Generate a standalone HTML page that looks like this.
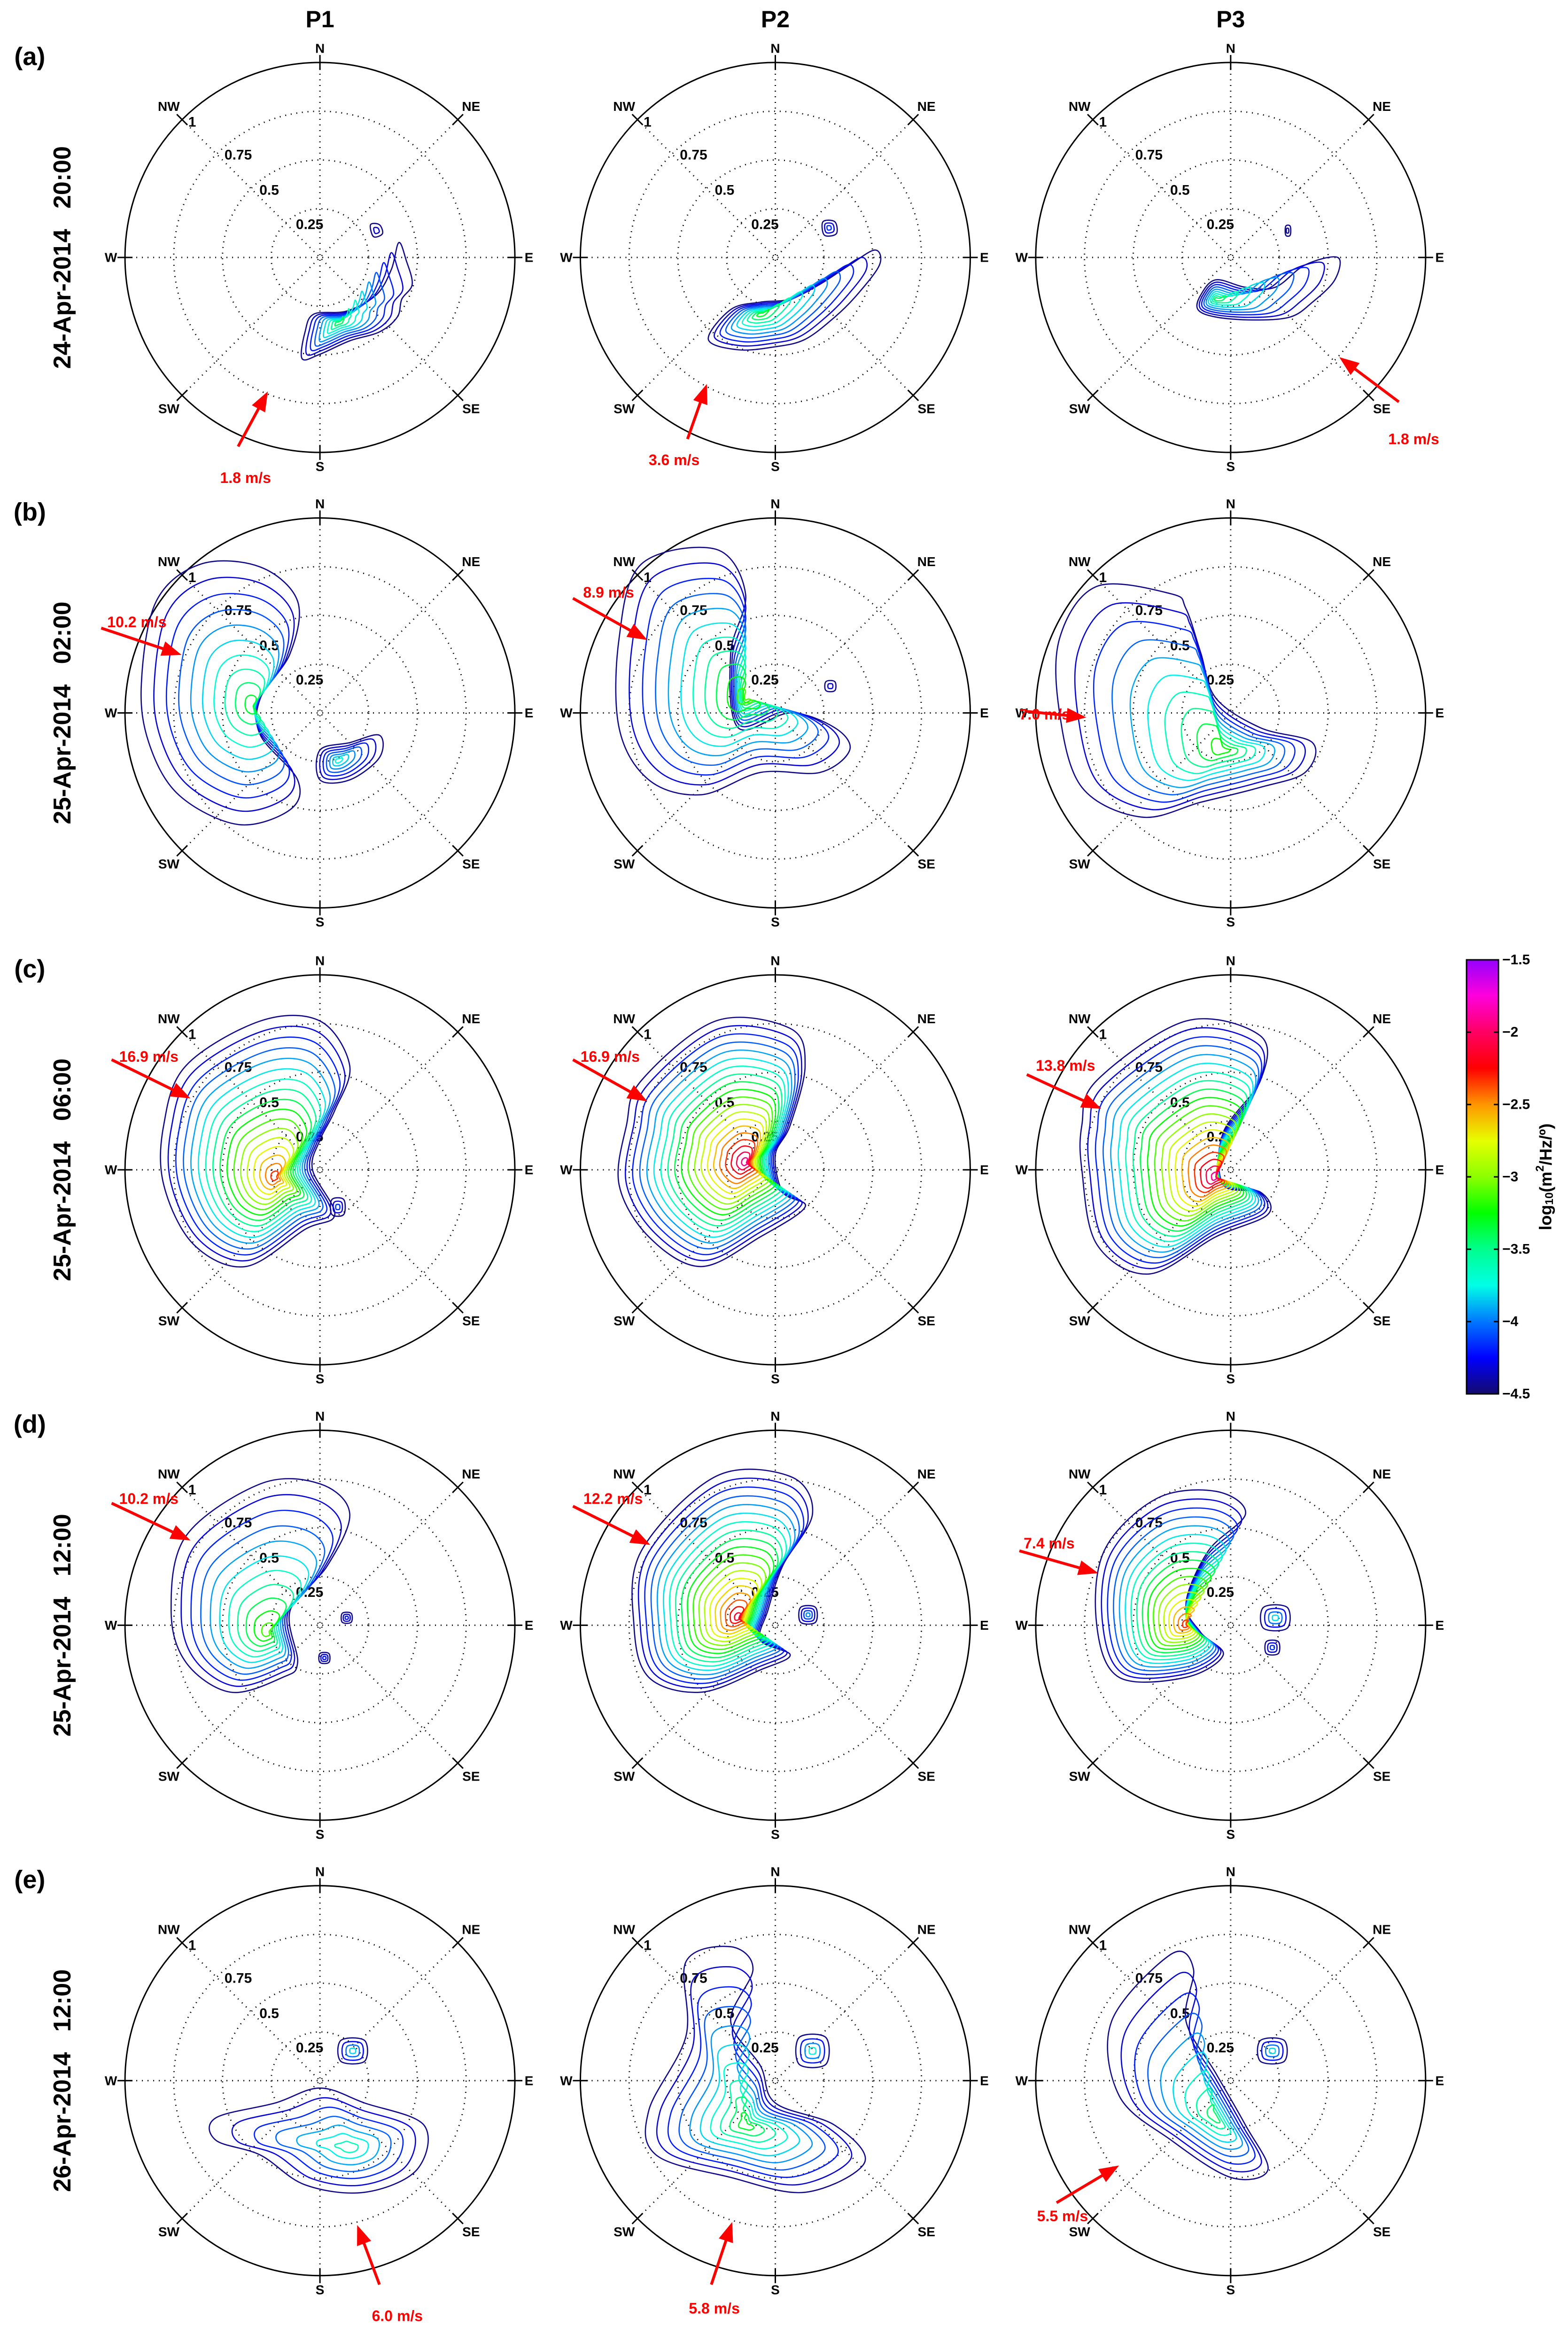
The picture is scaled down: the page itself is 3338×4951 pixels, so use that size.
<!DOCTYPE html>
<html><head><meta charset="utf-8"><style>
html,body{margin:0;padding:0;background:#fff}
svg{display:block}
text{font-family:"Liberation Sans","DejaVu Sans",sans-serif;font-weight:bold}
</style></head><body>
<svg id="fig" xmlns="http://www.w3.org/2000/svg" width="3338" height="4951" viewBox="0 0 3338 4951">
<rect width="3338" height="4951" fill="#fff"/>
</svg>
<script>
const NS="http://www.w3.org/2000/svg";
const svg=document.getElementById('fig');
const S=415/131;                       // display px -> full px
const colX=[215,521,827];
const rowY=[173,479,786,1092,1398];
const colNames=['P1','P2','P3'];
const rowLetters=['(a)','(b)','(c)','(d)','(e)'];
const rowDates=['24-Apr-2014','25-Apr-2014','25-Apr-2014','25-Apr-2014','26-Apr-2014'];
const rowTimes=['20:00','02:00','06:00','12:00','12:00'];
const ringValues=[0.25,0.5,0.75,1];
const cbTicks=[-1.5,-2,-2.5,-3,-3.5,-4,-4.5];
const cbMin=-4.5, cbMax=-1.5;
// panel blobs: outer contour [dx,dy] (display px), peak, peak level
const blobs=[
 [{o:[[-12,68],[-10,50],[-4,38],[18,36],[38,25],[48,8],[53,-10],[58,2],[62,18],[55,28],[52,40],[40,50],[20,56],[0,65]],p:[12,44],top:-3.3},
  {o:[[34,-22],[40,-22],[42,-16],[36,-14]],p:[38,-18],top:-4.2}],
 [{o:[[-45,55],[-30,35],[-10,30],[10,28],[30,18],[50,5],[67,-5],[70,5],[55,25],[40,40],[20,55],[0,60],[-25,62]],p:[-10,38],top:-3.2},
  {o:[[32,-24],[40,-24],[41,-16],[33,-15]],p:[36,-20],top:-4.0}],
 [{o:[[-20,25],[-10,15],[10,20],[30,20],[50,5],[72,0],[70,15],[55,30],[40,40],[15,42],[-10,40],[-22,35]],p:[-10,28],top:-3.3},
  {o:[[37,-21],[40,-21],[40,-15],[37,-15]],p:[38,-18],top:-4.4}],
 [{o:[[-110,-75],[-80,-100],[-40,-98],[-15,-75],[-20,-40],[-40,-10],[-40,15],[-15,45],[-20,65],[-55,75],[-95,55],[-115,20],[-120,-20]],p:[-45,-5],top:-3.2},
  {o:[[0,25],[20,20],[40,15],[40,30],[20,45],[0,45]],p:[12,32],top:-3.6}],
 [{o:[[-90,-100],[-40,-110],[-20,-80],[-30,-40],[-25,10],[10,0],[40,10],[50,25],[30,40],[-10,40],[-50,55],[-85,45],[-105,10],[-105,-50]],p:[-20,-10],top:-3.0},
  {o:[[34,-21],[40,-21],[40,-15],[34,-15]],p:[37,-18],top:-4.2}],
 [{o:[[-90,-85],[-40,-80],[-30,-70],[-20,-40],[-10,-10],[20,10],[55,20],[50,40],[20,50],[-20,60],[-60,70],[-100,50],[-115,0],[-115,-50]],p:[-5,25],top:-3.1}],
 [{o:[[-90,-70],[-40,-100],[0,-100],[20,-70],[10,-40],[0,-20],[-5,0],[10,30],[-10,40],[-50,65],[-85,50],[-105,10],[-105,-30]],p:[-30,5],top:-2.2},
  {o:[[8,20],[16,20],[16,30],[8,30]],p:[12,25],top:-4.0}],
 [{o:[[-90,-60],[-40,-100],[10,-95],[20,-70],[10,-30],[0,-10],[5,15],[20,25],[-10,45],[-50,65],[-85,45],[-105,10],[-100,-30]],p:[-20,-5],top:-1.8}],
 [{o:[[-90,-60],[-30,-100],[20,-90],[20,-60],[-5,-25],[-5,10],[20,15],[25,30],[-10,45],[-55,70],[-90,50],[-100,0],[-100,-30]],p:[-10,5],top:-1.8}],
 [{o:[[-90,-60],[-40,-95],[0,-95],[20,-75],[5,-40],[-20,-10],[-15,25],[-25,35],[-60,45],[-90,25],[-100,-10]],p:[-35,5],top:-3.0},
  {o:[[15,-8],[21,-8],[21,-2],[15,-2]],p:[18,-5],top:-4.1},{o:[[0,19],[6,19],[6,25],[0,25]],p:[3,22],top:-4.1}],
 [{o:[[-90,-50],[-40,-100],[10,-100],[25,-75],[5,-40],[-5,-10],[-10,10],[10,20],[-10,30],[-50,45],[-85,35],[-95,0]],p:[-25,-5],top:-2.0},
  {o:[[17,-12],[27,-12],[27,-2],[17,-2]],p:[22,-7],top:-3.8}],
 [{o:[[-85,-50],[-50,-85],[-10,-90],[10,-75],[-15,-50],[-30,-15],[-20,5],[-5,20],[-30,35],[-75,35],[-90,0]],p:[-30,0],top:-2.2},
  {o:[[22,-12],[38,-12],[38,2],[22,2]],p:[30,-5],top:-3.6},{o:[[24,11],[32,11],[32,19],[24,19]],p:[28,15],top:-4.0}],
 [{o:[[-70,25],[-30,15],[0,5],[30,15],[70,30],[65,60],[30,75],[-10,70],[-40,50],[-70,40]],p:[20,45],top:-3.5},
  {o:[[14,-27],[30,-27],[30,-13],[14,-13]],p:[22,-20],top:-3.6}],
 [{o:[[-60,-80],[-30,-90],[-15,-75],[-30,-40],[-10,-10],[0,15],[40,30],[60,55],[20,75],[-30,65],[-80,50],[-85,20],[-60,-30]],p:[-20,30],top:-3.2},
  {o:[[16,-29],[34,-29],[34,-11],[16,-11]],p:[25,-20],top:-3.5}],
 [{o:[[-80,-40],[-40,-85],[-25,-75],[-30,-40],[-10,-5],[10,30],[25,60],[0,65],[-40,40],[-75,10]],p:[-10,25],top:-3.3},
  {o:[[20,-27],[36,-27],[36,-13],[20,-13]],p:[28,-20],top:-3.6}]
];
// arrows: tail, tip, label position (display px, absolute), label
const arrowTails=[[160,300],[462,295],[940,270],[68,422],[385,402],[690,478],[75,712],[385,712],[690,722],[75,1010],[385,1012],[685,1042],[255,1535],[478,1535],[710,1480]];
const arrowTips=[[180,263],[475,258],[900,240],[122,440],[435,430],[730,482],[128,738],[435,740],[740,745],[128,1035],[437,1038],[738,1057],[240,1495],[492,1493],[752,1455]];
const arrowLabelPos=[[165,321],[453,309],[950,295],[92,418],[409,398],[702,480],[100,710],[410,710],[716,716],[100,1007],[412,1007],[705,1037],[267,1556],[480,1551],[714,1489]];
const arrowLabels=['1.8 m/s','3.6 m/s','1.8 m/s','10.2 m/s','8.9 m/s','7.0 m/s','16.9 m/s','16.9 m/s','13.8 m/s','10.2 m/s','12.2 m/s','7.4 m/s','6.0 m/s','5.8 m/s','5.5 m/s'];

const stops=[[-4.5,[20,10,110]],[-4.25,[0,0,255]],[-4.0,[0,120,255]],[-3.75,[0,255,230]],[-3.5,[0,255,140]],[-3.25,[0,255,0]],[-3.0,[140,255,0]],[-2.75,[230,255,0]],[-2.5,[255,150,0]],[-2.25,[255,0,0]],[-2.0,[255,0,100]],[-1.75,[255,0,220]],[-1.5,[150,0,255]]];
function cmap(v){
  if(v<=stops[0][0])return 'rgb('+stops[0][1]+')';
  for(let i=1;i<stops.length;i++){if(v<=stops[i][0]){const a=stops[i-1],b=stops[i],t=(v-a[0])/(b[0]-a[0]);
    return 'rgb('+a[1].map((c,k)=>Math.round(c+(b[1][k]-c)*t)).join(',')+')';}}
  return 'rgb('+stops[stops.length-1][1]+')';
}
function el(tag,attrs,parent){const e=document.createElementNS(NS,tag);for(const k in attrs)e.setAttribute(k,attrs[k]);(parent||svg).appendChild(e);return e;}
function smooth(pts){
  const n=pts.length;let d='M'+pts[0][0].toFixed(1)+','+pts[0][1].toFixed(1);
  for(let i=0;i<n;i++){const p0=pts[(i-1+n)%n],p1=pts[i],p2=pts[(i+1)%n],p3=pts[(i+2)%n];
    d+=' C'+(p1[0]+(p2[0]-p0[0])/6).toFixed(1)+','+(p1[1]+(p2[1]-p0[1])/6).toFixed(1)+' '+(p2[0]-(p3[0]-p1[0])/6).toFixed(1)+','+(p2[1]-(p3[1]-p1[1])/6).toFixed(1)+' '+p2[0].toFixed(1)+','+p2[1].toFixed(1);}
  return d+'Z';
}
const R=415;
function txt(x,y,s,size,parent,fill,anchor,name){const t=el('text',{x:x,y:y,'font-size':size,fill:fill||'#000','text-anchor':anchor||'middle','dominant-baseline':'central'},parent);t.textContent=s;
  
  return t;}

colNames.forEach((c,i)=>{txt(colX[i]*S,13*S,c,50,svg,'#000','middle','column-header-'+c.toLowerCase());});
rowY.forEach((ry,r)=>{
  txt(20*S,(ry-135)*S,rowLetters[r],54,svg,'#000','middle','panel-label-'+'abcde'[r]);
  const t=el('text',{x:0,y:0,'font-size':52,'text-anchor':'middle','dominant-baseline':'central',transform:'translate('+(42*S)+','+(ry*S)+') rotate(-90)'});
  t.textContent=rowDates[r]+'\u00a0\u00a0\u00a0'+rowTimes[r];
  
  
});
const dirs=['N','NE','E','SE','S','SW','W','NW'];
let idx=0;
rowY.forEach((ry,r)=>{colX.forEach((cx,c)=>{
  const X=cx*S,Y=ry*S;
  const g=el('g',{});
  
  
  ringValues.forEach(v=>{const ci=el('circle',{cx:X,cy:Y,r:R*v,fill:'none',stroke:'#000','stroke-width':3,'stroke-dasharray':v===1?'none':'2 10'},g);
    
    });
  dirs.forEach((d,k)=>{const a=k*Math.PI/4,sx=Math.sin(a),sy=-Math.cos(a);
    if(k<4){const l=el('line',{x1:X-sx*R,y1:Y-sy*R,x2:X+sx*R,y2:Y+sy*R,stroke:'#000','stroke-width':3,'stroke-dasharray':'2 10'},g);
      
      }
    const tk=el('line',{x1:X+sx*(R-16),y1:Y+sy*(R-16),x2:X+sx*(R+16),y2:Y+sy*(R+16),stroke:'#000','stroke-width':3},g);
    
    
    const diag=(k%2===1),off=diag?455:445;
    txt(X+sx*off,Y+sy*off,d,28,g,'#000','middle','direction-label-'+d.toLowerCase());
  });
  const rl=[[-272,-288,'1'],[-174,-218,'0.75'],[-108,-143,'0.5'],[-22,-70,'0.25']];
  rl.forEach(q=>txt(X+q[0],Y+q[1],q[2],30,g,'#000','middle','ring-label'));
  blobs[idx].forEach(b=>{
    const span=Math.max(...b.o.map(p=>Math.abs(p[0]-b.p[0])+Math.abs(p[1]-b.p[1])));
    let n=Math.max(2,Math.round((b.top-(-4.45))/0.13));
    if(span<20)n=Math.min(n,4);
    for(let k=0;k<n;k++){
      const t=k/n, f=Math.pow(1-t,1.15), lev=-4.45+(b.top+4.45)*t;
      const pts=b.o.map(p=>[X+(b.p[0]+(p[0]-b.p[0])*f)*S,Y+(b.p[1]+(p[1]-b.p[1])*f)*S]);
      const pa=el('path',{d:smooth(pts),fill:'none',stroke:cmap(lev),'stroke-width':2.6},g);
      
      
    }
  });
  idx++;
});});
arrowLabels.forEach((lab,i)=>{
  const x1=arrowTails[i][0]*S,y1=arrowTails[i][1]*S,x2=arrowTips[i][0]*S,y2=arrowTips[i][1]*S;
  const ang=Math.atan2(y2-y1,x2-x1),h=42,w=16;
  const l=el('line',{x1:x1,y1:y1,x2:x2-Math.cos(ang)*h*0.8,y2:y2-Math.sin(ang)*h*0.8,stroke:'#f00','stroke-width':6});
  
  
  const bx=x2-Math.cos(ang)*h,by=y2-Math.sin(ang)*h;
  const hd=el('polygon',{points:x2+','+y2+' '+(bx-Math.sin(ang)*w)+','+(by+Math.cos(ang)*w)+' '+(bx+Math.sin(ang)*w)+','+(by-Math.cos(ang)*w),fill:'#f00'});
  
  
  txt(arrowLabelPos[i][0]*S,arrowLabelPos[i][1]*S,lab,32,svg,'#f00','middle','wind-speed-label');
});
const cbX=3122,cbY=2043,cbW=68,cbH=924;
const defs=el('defs',{});
const lg=el('linearGradient',{id:'cbg',x1:0,y1:1,x2:0,y2:0},defs);
stops.forEach(s=>el('stop',{offset:((s[0]-cbMin)/(cbMax-cbMin)),'stop-color':'rgb('+s[1]+')'},lg));
const cb=el('rect',{x:cbX,y:cbY,width:cbW,height:cbH,fill:'url(#cbg)',stroke:'#000','stroke-width':3});


cbTicks.forEach(v=>{const y=cbY+cbH*(cbMax-v)/(cbMax-cbMin);
  const t1=el('line',{x1:cbX,y1:y,x2:cbX+10,y2:y,stroke:'#000','stroke-width':3});
  
  
  const t2=el('line',{x1:cbX+cbW-10,y1:y,x2:cbX+cbW,y2:y,stroke:'#000','stroke-width':3});
  
  
  const t=txt(cbX+cbW+8,y,String(v).replace('-','\u2212'),30,svg,'#000','start','colorbar-tick-label');t.setAttribute('font-weight','normal');
});
const cl=el('text',{x:0,y:0,'font-size':36,'font-weight':'normal','text-anchor':'middle','dominant-baseline':'central',transform:'translate(3290,2505) rotate(-90)'});
cl.innerHTML='log<tspan font-size="24" dy="8">10</tspan><tspan dy="-8">(m</tspan><tspan font-size="24" dy="-12">2</tspan><tspan dy="12">/Hz/º)</tspan>';


</script>
</body></html>
